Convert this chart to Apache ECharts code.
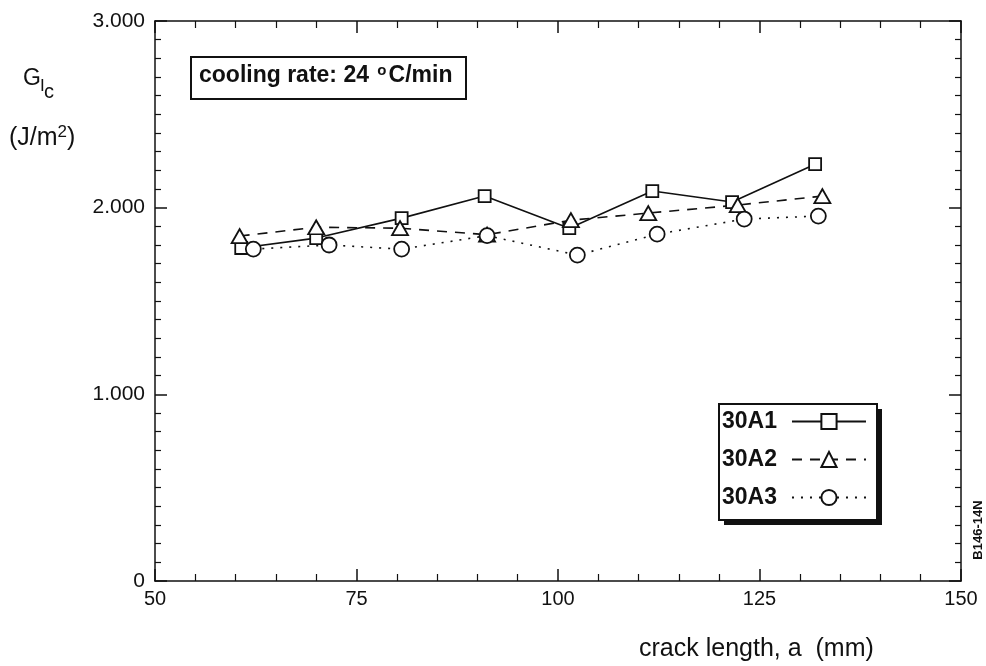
<!DOCTYPE html>
<html>
<head>
<meta charset="utf-8">
<script src="https://cdn.jsdelivr.net/npm/echarts@6/dist/echarts.min.js"></script>
<style>
  html, body { margin: 0; padding: 0; background: #fff; }
  #main { width: 986px; height: 666px; }
</style>
</head>
<body>
<div id="main"></div>
<script>
// crack length (mm) / G_Ic (J/m2)
var a1 = [60.7, 70.0, 80.6, 90.9, 101.4, 111.7, 121.6, 131.9];
var g1 = [1784, 1837, 1944, 2062, 1890, 2089, 2030, 2233];
var a2 = [60.5, 70.0, 80.4, 91.2, 101.6, 111.2, 122.3, 132.8];
var g2 = [1848, 1895, 1890, 1855, 1933, 1971, 2014, 2062];
var a3 = [62.2, 71.6, 80.6, 91.2, 102.4, 112.3, 123.1, 132.3];
var g3 = [1778, 1800, 1778, 1850, 1746, 1858, 1939, 1955];
var seriesNames = ['30A1', '30A2', '30A3'];
var xTicks = [50, 75, 100, 125, 150];
var yTicks = [0, 1000, 2000, 3000];

var FONT = '"Liberation Sans", Arial, Helvetica, sans-serif';

function pairs(xs, ys) {
  return xs.map(function (x, i) { return [x, ys[i]]; });
}

function xAxisDef(pos, showLabel) {
  return {
    type: 'value', position: pos,
    min: xTicks[0], max: xTicks[xTicks.length - 1], interval: 25,
    axisLine: { show: true, onZero: false, lineStyle: { color: '#111', width: 1.5 } },
    axisTick: { show: true, inside: true, length: 12, lineStyle: { color: '#111', width: 1.5 } },
    minorTick: { show: true, splitNumber: 5, length: 7, lineStyle: { color: '#111', width: 1.2 } },
    splitLine: { show: false },
    axisLabel: { show: showLabel, color: '#111', fontSize: 20, fontFamily: FONT, margin: 8 }
  };
}

function yAxisDef(pos, showLabel) {
  return {
    type: 'value', position: pos,
    min: yTicks[0], max: yTicks[yTicks.length - 1], interval: 1000,
    axisLine: { show: true, onZero: false, lineStyle: { color: '#111', width: 1.5 } },
    axisTick: { show: true, inside: true, length: 12, lineStyle: { color: '#111', width: 1.5 } },
    minorTick: { show: true, splitNumber: 10, length: 6, lineStyle: { color: '#111', width: 1.2 } },
    splitLine: { show: false },
    axisLabel: {
      show: showLabel, color: '#111', fontSize: 21, fontFamily: FONT, margin: 10,
      formatter: function (v) { return v === 0 ? '0' : (v / 1000).toFixed(3); }
    }
  };
}

function lineSeries(name, data, symbol, size, lineType) {
  return {
    name: name, type: 'line', data: data,
    symbol: symbol, symbolSize: size,
    showAllSymbol: true,
    lineStyle: { color: '#111', width: lineType === 'dotted' ? 2.2 : 1.6, type: lineType },
    itemStyle: { color: '#fff', borderColor: '#111', borderWidth: 1.8 },
    emphasis: { disabled: true },
    z: 3
  };
}

var chart = echarts.init(document.getElementById('main'));
chart.setOption({
  animation: false,
  backgroundColor: '#fff',
  grid: { left: 155, right: 25, top: 21, bottom: 85 },
  xAxis: [xAxisDef('bottom', true), xAxisDef('top', false)],
  yAxis: [yAxisDef('left', true), yAxisDef('right', false)],
  legend: {
    orient: 'vertical', left: 722, top: 410,
    align: 'right',
    itemWidth: 74, itemHeight: 19, itemGap: 15,
    padding: 0,
    z: 20,
    textStyle: { color: '#111', fontSize: 23, fontWeight: 'bold', fontFamily: FONT, padding: [0, 10, 0, 0] },
    data: seriesNames
  },
  series: [
    lineSeries(seriesNames[0], pairs(a1, g1), 'rect', 12, 'solid'),
    lineSeries(seriesNames[1], pairs(a2, g2), 'triangle', [16, 14], [10, 8]),
    lineSeries(seriesNames[2], pairs(a3, g3), 'circle', 15, [2, 7])
  ],
  graphic: [
    // legend frame with drop shadow
    { type: 'rect', left: 724, top: 409, z: 1, shape: { width: 158, height: 116 },
      style: { fill: '#111' } },
    { type: 'rect', left: 718, top: 403, z: 2, shape: { width: 158, height: 116 },
      style: { fill: '#fff', stroke: '#111', lineWidth: 2 } },
    // annotation box
    { type: 'rect', left: 190, top: 56, shape: { width: 275, height: 42 },
      style: { fill: '#fff', stroke: '#111', lineWidth: 2 }, z: 10 },
    { type: 'text', left: 199, top: 63, z: 11,
      style: {
        text: 'cooling rate: 24 {sup|o}C/min',
        fill: '#111', font: 'bold 23px ' + FONT,
        rich: { sup: { fontSize: 15, fontWeight: 'bold', fontFamily: FONT, padding: [0, 2, 10, 2] } }
      } },
    // y-axis title
    { type: 'text', left: 23, top: 67, style: { text: 'G', fill: '#111', font: '23px ' + FONT } },
    { type: 'text', left: 40, top: 78, style: { text: 'I', fill: '#111', font: '17px ' + FONT } },
    { type: 'text', left: 44, top: 82, style: { text: 'c', fill: '#111', font: '20px ' + FONT } },
    { type: 'text', left: 9, top: 124,
      style: {
        text: '(J/m{sup|2})', fill: '#111', font: '25px ' + FONT,
        rich: { sup: { fontSize: 17, fontFamily: FONT, padding: [0, 0, 12, 0] } }
      } },
    // x-axis title
    { type: 'text', left: 639, top: 637, style: { text: 'crack length, a  (mm)', fill: '#111', font: '25px ' + FONT } },
    // figure code
    { type: 'text', x: 978, y: 530, rotation: Math.PI / 2,
      style: { text: 'B146-14N', fill: '#111', font: 'bold 13px ' + FONT, align: 'center', verticalAlign: 'middle' } }
  ]
});
</script>
</body>
</html>
